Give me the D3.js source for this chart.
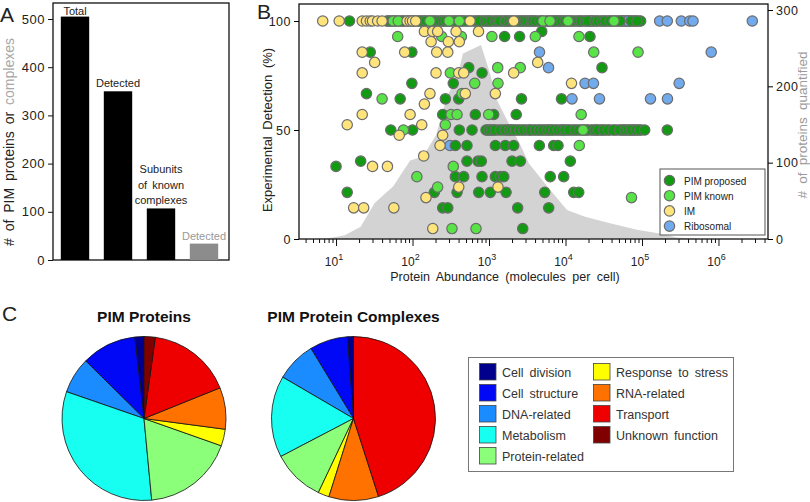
<!DOCTYPE html>
<html><head><meta charset="utf-8">
<script src="https://cdn.jsdelivr.net/npm/d3@7"></script>
<style>
body{margin:0;background:#fff;}
svg{display:block;font-family:"Liberation Sans",Arial,sans-serif;}
</style></head><body>
<svg id="c" width="810" height="502"></svg>
<script>
// ---------- Panel A data ----------
const barLabels = [["Total"],["Detected"],["Subunits","of  known","complexes"],["Detected"]];
const barValues = [505, 350, 107, 34];
const barTicks = [0,100,200,300,400,500];

// ---------- Panel B data: [abundance (molecules/cell), detection %] ----------
const ribosomal = [[8150,100],[22200,100],[56450,100],[65600,100],[80300,100],[170300,100],[214100,100],[326400,100],[420700,100],[464500,100],[2767000,100],
 [4570,85.7],[803500,85.7],[6000,78.6],[17990,71.4],[23200,71.4],[306200,71.4],[12160,64.3],[27800,64.3],[129100,64.3],[215400,64.3],[309,42.9]];
// tightly overlapping PIM proposed points forming the grey bands at 100 % and 50 %
const pimProposedBandTop = [46,50,56,58,66,74,83,88,96,104,108,116,127,140,145,160,168,178,194,215,240,262,290,305,320,355,390,410,430,465,520,550,580,660,730,800,850,930,1020,1130,1250,1450,1520,1750,1920,2130,2390,2600,2830,3100,3380,3650,3950,4350,4850,5100,5800,6100,6500,6800,7250,7800,8300,8700,9400,10300,10900,11400,12600,14100,15400,17000,18800,20700,21800,23000,25500,28300,31300,34500,36500,40000,42000,44500,49300,54000,57000,60000,63000,66000,69000,76000,81000,91000,96000];
const pimProposedBandHalf = [950,1040,1150,1300,1520,1730,1920,2100,2360,2670,3000,3400,3800,4300,4800,5400,6000,6650,7500,8500,9400,10400,11700,12500,14100,16000,17000,19000,20000,23000,25500,28500,30000,33500,38000,44000,47000,54000,56500,62000,69000,76000,79000,88000,98000];
const pimProposedTop = [15,48,52,61,71,77,122,133,150,185,203,229,251,274,341,371,444,490,626,697,762,887,971,1060,1200,1310,1390,1600,1670,1830,2000,2270,2510,2700,2960,3240,3540,3760,4110,4640,5560,7010,7510,8990,9840,11980,13300,14890,16030,17990,19680,24300,26600,30000,32800,38190,47100,51500,72400,86100];
const pimProposedHalf = [52,100,409,600,914,1000,1090,1200,1410,1630,1830,2000,2210,2510,2840,3240,3540,4030,4550,5080,5730,6320,7010,7980,8990,9840,11020,13300,15000,17990,21740,24300,26600,31550,35950,41800,51100,59400,65600,72400,83600,93300,108400,214100];
const pimProposedOther = [[4890,95.2],[1600,92.9],[2510,92.9],[20900,92.9],[28,85.7],[98,85.7],[543,78.6],[30000,78.6],[810,76.2],
 [98,71.4],[341,71.4],[25,66.7],[69,64.3],[269,64.3],[402,64.3],[2660,64.3],[8870,64.3],
 [248,57.1],[662,57.1],[1150,57.1],[2270,57.1],
 [363,42.9],[515,42.9],[1210,42.9],[1630,42.9],[2100,42.9],[4550,42.9],[7010,42.9],[7980,42.9],
 [21,35.7],[515,35.7],[718,35.7],[793,35.7],[2000,35.7],[2570,35.7],[11560,35.7],[10,33.3],
 [363,28.6],[467,28.6],[810,28.6],[1210,28.6],[1410,28.6],[1560,28.6],[6320,28.6],[9470,28.6],
 [14,21.4],[193,21.4],[382,21.4],[733,21.4],[1040,21.4],[1670,21.4],[5350,21.4],[12800,21.4],[14890,21.4],
 [248,14.3],[289,14.3],[2370,14.3],[6030,14.3],[2760,4.8]];
const pimKnown = [[56,100],[65,100],[169,100],[300,100],[409,100],[5080,100],[6270,100],[10790,100],[43050,100],
 [64,92.9],[241,92.9],[435,92.9],[1090,92.9],[4030,92.9],[15000,92.9],[23400,85.7],[88800,85.7],
 [1300,78.6],[2560,78.6],[312,76.2],[650,71.4],[1310,71.4],[444,66.7],[40,64.3],
 [319,57.1],[382,57.1],[991,57.1],[16030,57.1],[269,52.4],[76,50],[16940,50],
 [15140,42.9],[341,33.3],[114,28.6],[213,23.8],[72900,19],[328,4.8],[676,4.8]];
const im = [[6.7,100],[11,100],[22,100],[25,100],[28,100],[30,100],[35,100],[40,100],[85,100],[93,100],[100,100],[110,100],[565,100],[2100,100],
 [143,95.2],[184,95.2],[213,95.2],[371,95.2],[729,95.2],[175,90.5],[294,90.5],[409,90.5],
 [22,85.7],[79,85.7],[207,85.7],[289,85.7],[32,81],[4330,81],
 [22,76.2],[203,76.2],[402,76.2],[467,76.2],[2100,76.2],[11980,71.4],
 [169,66.7],[490,66.7],[1210,66.7],[143,61.9],
 [22,57.1],[93,57.1],[14,52.4],[132,52.4],[67,47.6],[248,47.6],[229,42.9],[140,38.1],
 [30,33.3],[47,33.3],[402,23.8],[1310,23.8],[150,19],
 [17,14.3],[23,14.3],[57,14.3],[184,4.8]];
// proteins quantified (right axis): [abundance, count]
const quantified = [[6.2,0],[9.1,2],[13,5],[21,16],[32,47],[56,69],[93,103],[137,108],[203,136],[283,187],[382,212],[457,243],[786,254],[1030,217],[1270,182],[1880,148],[2470,127],[3330,99],[6080,66],[10470,38],[17990,29],[40550,20],[86100,12],[177000,7],[287000,2],[573000,0]];
const detectionTicks = [0,50,100];
const quantTicks = [0,100,200,300];
const abundanceMajor = [1,2,3,4,5,6];
const seriesNames = ["PIM proposed","PIM known","IM","Ribosomal"];
const seriesColors = ["#129a12","#58e346","#ffe47c","#72aaee"];

// ---------- Panel C data ----------
const categories = ["Cell division","Cell structure","DNA-related","Metabolism","Protein-related","Response to stress","RNA-related","Transport","Unknown function"];
const catColors = ["#00008c","#0008f5","#1a8cff","#16fff0","#8cff7a","#ffff00","#ff7200","#ee0000","#800000"];
const pimProteins = [1.8,10.8,7.1,31.8,18.1,3.3,8.2,16.7,2.2];
const pimComplexes = [1.2,7.5,7.9,16.1,10.3,2.2,9.8,45.1,0];

const svg = d3.select("#c");
const txt = "#222";

// ================= Panel A =================
const A = svg.append("g");
const yA = d3.scaleLinear().domain([0,500]).range([260,19]);
const xA = d3.scaleBand().domain(d3.range(barValues.length)).range([53.5,225.5]).paddingInner(0.34).paddingOuter(0.17);
A.append("rect").attr("x",53).attr("y",3).attr("width",176).attr("height",257).attr("fill","none").attr("stroke","#111").attr("stroke-width",1.3);
A.selectAll("rect.bar").data(barValues).join("rect").attr("class","bar")
 .attr("x",(d,i)=>xA(i)).attr("width",xA.bandwidth())
 .attr("y",d=>yA(d)).attr("height",d=>yA(0)-yA(d))
 .attr("fill",(d,i)=>i===3?"#8c8c8c":"#000");
const axA = A.append("g").attr("transform","translate(53,0)")
 .call(d3.axisLeft(yA).tickValues(barTicks).tickSize(5).tickPadding(3));
axA.select(".domain").remove();
axA.selectAll("text").attr("font-size",13).attr("fill",txt).attr("letter-spacing",0.5);
axA.selectAll("line").attr("stroke","#111");
barLabels.forEach((lines,i)=>{
  const n = lines.length;
  const gap = i===1?4:(i===0?2:4);
  lines.forEach((l,j)=>{
    A.append("text").attr("x",xA(i)+xA.bandwidth()/2)
     .attr("y",yA(barValues[i]) - gap - (n-1-j)*15.5)
     .attr("text-anchor","middle").attr("font-size",11).attr("word-spacing",2)
     .attr("fill",i===3?"#999":txt).text(l);
  });
});
const yt = A.append("text").attr("transform","translate(14,142) rotate(-90)").attr("text-anchor","middle").attr("font-size",14).attr("word-spacing",3);
yt.append("tspan").attr("fill",txt).text("# of PIM proteins or ");
yt.append("tspan").attr("fill","#a8a8a8").text("complexes");
svg.append("text").attr("x",0).attr("y",22).attr("font-size",21).attr("fill",txt).text("A");

// ================= Panel B =================
const B = svg.append("g");
const xB = d3.scaleLog().domain([3.28,4.44e6]).range([299,768]);
const yB = d3.scaleLinear().domain([0,100]).range([239,21]);
const yR = d3.scaleLinear().domain([0,300]).range([239,10]);
B.append("clipPath").attr("id","clipB").append("rect").attr("x",299).attr("y",4).attr("width",469).attr("height",235);
const plot = B.append("g").attr("clip-path","url(#clipB)");
plot.append("path").datum(quantified)
 .attr("d",d3.area().x(d=>xB(d[0])).y0(yR(0)).y1(d=>yR(d[1])))
 .attr("fill","#d3d3d3");
const series = [
  {data:pimProposedBandTop.map(v=>[v,100]).concat(pimProposedBandHalf.map(v=>[v,50])), color:seriesColors[0]},
  {data:ribosomal, color:seriesColors[3]},
  {data:pimProposedTop.map(v=>[v,100]).concat(pimProposedHalf.map(v=>[v,50]), pimProposedOther), color:seriesColors[0]},
  {data:pimKnown, color:seriesColors[1]},
  {data:im, color:seriesColors[2]}
];
series.forEach(s=>{
  plot.append("g").selectAll("circle").data(s.data).join("circle")
   .attr("cx",d=>xB(d[0])).attr("cy",d=>yB(d[1])).attr("r",5.2)
   .attr("fill",s.color).attr("stroke","#6c6c6c").attr("stroke-width",1.2);
});
B.append("rect").attr("x",299).attr("y",4).attr("width",469).attr("height",235).attr("fill","none").attr("stroke","#111").attr("stroke-width",1.3);
const axBL = B.append("g").attr("transform","translate(299,0)").call(d3.axisLeft(yB).tickValues(detectionTicks).tickSize(5).tickPadding(3));
axBL.select(".domain").remove();
axBL.selectAll("text").attr("font-size",12.5).attr("fill",txt).attr("letter-spacing",0.5);
const axBR = B.append("g").attr("transform","translate(768,0)").call(d3.axisRight(yR).tickValues(quantTicks).tickSize(5).tickPadding(3));
axBR.select(".domain").remove();
axBR.selectAll("text").attr("font-size",12.5).attr("fill",txt).attr("letter-spacing",0.5);
const allTicks = [];
for(let k=0;k<=6;k++) for(let m=1;m<=9;m++){ const v=m*Math.pow(10,k); if(v>=3.3 && v<=4.4e6) allTicks.push(v); }
const axBB = B.append("g").attr("transform","translate(0,239)").call(d3.axisBottom(xB).tickValues(allTicks).tickSize(4).tickFormat(""));
axBB.select(".domain").remove();
axBB.selectAll(".tick line").attr("y2",d=>{const l=Math.log10(d);return Math.abs(l-Math.round(l))<1e-9?7:4;}).attr("stroke","#111");
abundanceMajor.forEach(k=>{
  const t = B.append("text").attr("x",xB(Math.pow(10,k))-2).attr("y",266).attr("text-anchor","middle").attr("font-size",12).attr("fill",txt);
  t.append("tspan").text("10");
  t.append("tspan").attr("dy",-6).attr("font-size",9).text(k);
});
B.append("text").attr("x",505).attr("y",281).attr("text-anchor","middle").attr("font-size",12.5).attr("word-spacing",3).attr("fill",txt).text("Protein Abundance (molecules per cell)");
B.append("text").attr("transform","translate(272,130) rotate(-90)").attr("text-anchor","middle").attr("font-size",13).attr("word-spacing",3).attr("fill",txt).text("Experimental Detection (%)");
B.append("text").attr("transform","translate(807,125) rotate(-90)").attr("text-anchor","middle").attr("font-size",13.5).attr("word-spacing",3.5).attr("fill","#9a9a9a").text("# of proteins quantified");
svg.append("text").attr("x",257).attr("y",19).attr("font-size",21).attr("fill",txt).text("B");
const lgB = B.append("g");
lgB.append("rect").attr("x",660).attr("y",169).attr("width",105).attr("height",66).attr("fill","#fff").attr("stroke","#555").attr("stroke-width",1);
seriesNames.forEach((n,i)=>{
  lgB.append("circle").attr("cx",669.5).attr("cy",180.5+i*15.2).attr("r",5.2).attr("fill",seriesColors[i]).attr("stroke","#6c6c6c").attr("stroke-width",1.2);
  lgB.append("text").attr("x",684).attr("y",184.5+i*15.2).attr("font-size",10).attr("fill",txt).text(n);
});

// ================= Panel C =================
svg.append("text").attr("x",2).attr("y",321).attr("font-size",21).attr("fill",txt).text("C");
const pie = d3.pie().sort(null).startAngle(0).endAngle(-2*Math.PI);
const arc = d3.arc().innerRadius(0).outerRadius(82);
[[pimProteins,"PIM Proteins",144],[pimComplexes,"PIM Protein Complexes",353.5]].forEach(([vals,title,cx])=>{
  const g = svg.append("g").attr("transform",`translate(${cx},418.5)`);
  g.selectAll("path").data(pie(vals)).join("path").attr("d",arc)
   .attr("fill",(d,i)=>catColors[i]).attr("stroke","#111").attr("stroke-width",0.8);
  svg.append("text").attr("x",cx).attr("y",322).attr("text-anchor","middle").attr("font-size",15.5).attr("font-weight","bold")
   .attr("fill","#111").text(title);
});
const lgC = svg.append("g");
lgC.append("rect").attr("x",468.5).attr("y",357.5).attr("width",265).attr("height",114).attr("fill","#fff").attr("stroke","#777").attr("stroke-width",1);
categories.forEach((c,i)=>{
  const col = i<5?0:1, row = i<5?i:i-5;
  const x = col===0?479.5:593.5, y = 363.5+row*21;
  lgC.append("rect").attr("x",x).attr("y",y).attr("width",16.5).attr("height",16.5).attr("fill",catColors[i]).attr("stroke","#444").attr("stroke-width",0.8);
  lgC.append("text").attr("x",x+22.5).attr("y",y+13).attr("font-size",12.5).attr("word-spacing",2.5).attr("fill","#333").text(c);
});
</script>
</body></html>
